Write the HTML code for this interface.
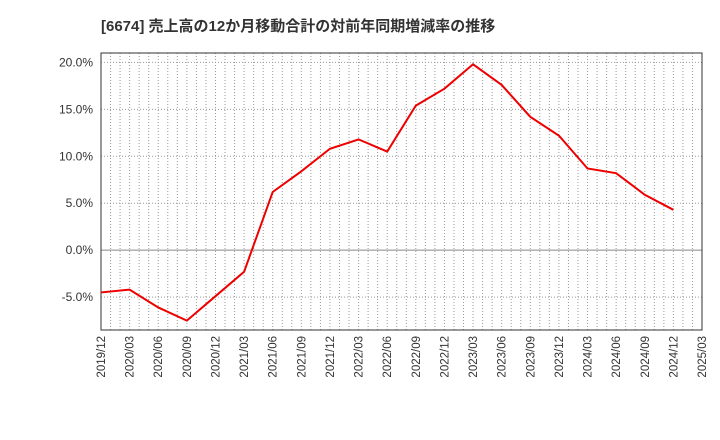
<!DOCTYPE html>
<html><head><meta charset="utf-8"><style>body{margin:0;background:#fff}svg{display:block;font-family:"Liberation Sans","Noto Sans CJK JP",sans-serif}</style></head>
<body>
<svg id="c" width="720" height="440">
<text x="101" y="31" font-size="15" font-weight="bold" fill="#333">[6674]  売上高の12か月移動合計の対前年同期増減率の推移</text>
</svg>
<script>
const categories=["2019/12","2020/03","2020/06","2020/09","2020/12","2021/03","2021/06","2021/09","2021/12","2022/03","2022/06","2022/09","2022/12","2023/03","2023/06","2023/09","2023/12","2024/03","2024/06","2024/09","2024/12","2025/03"];
const values=[-4.5,-4.2,-6.1,-7.5,-4.9,-2.3,6.2,8.4,10.8,11.8,10.5,15.4,17.2,19.8,17.6,14.2,12.2,8.7,8.2,5.9,4.3];
const yTicks=[-5,0,5,10,15,20];
const yMin=-8.5,yMax=21;
const L=101,R=702,T=53,B=330;
const NS="http://www.w3.org/2000/svg",svg=document.getElementById("c");
const xs=i=>L+(R-L)*i/(categories.length-1);
const ys=v=>B-(v-yMin)/(yMax-yMin)*(B-T);
function mk(t,a){const e=document.createElementNS(NS,t);for(const k in a)e.setAttribute(k,a[k]);svg.appendChild(e);return e;}
for(let m=1;m<(categories.length-1)*3;m++){const x=L+(R-L)*m/((categories.length-1)*3);
const g=mk("line",{x1:x,x2:x,y1:T,y2:B,stroke:"#999","stroke-dasharray":"1,2","stroke-width":1});

}
yTicks.forEach(v=>{const y=ys(v);
const g=mk("line",{x1:L,x2:R,y1:y,y2:y,stroke:v===0?"#888":"#999","stroke-dasharray":v===0?"none":"1,2"});


const t=mk("text",{x:L-8,y:y+4,"text-anchor":"end","font-size":12,fill:"#333"});t.textContent=v.toFixed(1)+"%";

});
categories.forEach((c,i)=>{const x=xs(i);
const t=mk("text",{transform:"translate("+(x+4)+","+(B+6)+") rotate(-90)","text-anchor":"end","font-size":11.5,fill:"#333"});t.textContent=c;

});
const f=mk("rect",{x:L,y:T,width:R-L,height:B-T,fill:"none",stroke:"#333"});


const p=mk("polyline",{points:values.map((v,i)=>xs(i)+","+ys(v)).join(" "),fill:"none",stroke:"#e00","stroke-width":2});


</script>
</body></html>
